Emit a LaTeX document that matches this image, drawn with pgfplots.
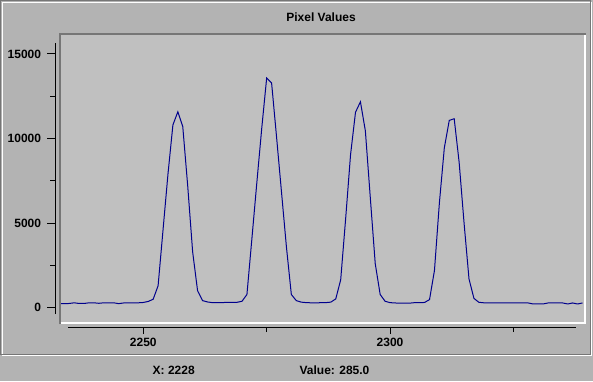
\documentclass[border=0pt]{standalone}
\usepackage{pgfplots}
\pgfplotsset{compat=1.18}
\usepackage{fontspec}
\setmainfont{Liberation Sans}
\definecolor{panel}{RGB}{179,179,179}
\definecolor{plotbg}{RGB}{192,192,192}
\definecolor{darkedge}{RGB}{118,118,118}
\definecolor{trace}{RGB}{0,0,140}
\newcommand{\guifont}{\bfseries\fontsize{12}{14}\selectfont}
\pgfplotstableread{
x v
2233 240
2234 240
2235 250
2236 290
2237 250
2238 250
2239 290
2240 290
2241 260
2242 290
2243 290
2244 290
2245 240
2246 280
2247 290
2248 290
2249 290
2250 310
2251 370
2252 500
2253 1300
2254 4600
2255 7900
2256 10800
2257 11580
2258 10700
2259 7200
2260 3300
2261 1000
2262 420
2263 340
2264 300
2265 300
2266 300
2267 320
2268 320
2269 320
2270 380
2271 780
2272 4060
2273 7370
2274 10600
2275 13580
2276 13280
2277 10100
2278 6850
2279 3600
2280 780
2281 420
2282 330
2283 300
2284 290
2285 280
2286 300
2287 300
2288 330
2289 520
2290 1650
2291 5250
2292 9050
2293 11550
2294 12170
2295 10450
2296 6500
2297 2600
2298 780
2299 380
2300 300
2301 280
2302 270
2303 270
2304 270
2305 300
2306 300
2307 310
2308 480
2309 2200
2310 6200
2311 9450
2312 11070
2313 11170
2314 8600
2315 5000
2316 1700
2317 550
2318 320
2319 290
2320 280
2321 280
2322 280
2323 280
2324 280
2325 280
2326 280
2327 280
2328 280
2329 220
2330 220
2331 220
2332 280
2333 280
2334 280
2335 280
2336 220
2337 280
2338 220
2339 280
}\pixeldata
\begin{document}
\begin{tikzpicture}[x=1pt,y=1pt]
\useasboundingbox (0,0) rectangle (593,381);
\fill[panel] (0,0) rectangle (593,381);
% etched frame of the main panel
\draw[white, line width=1pt] (2.5,381-355.5) rectangle (591.5,381-2.5);
\draw[darkedge, line width=1pt] (0.5,381-354) rectangle (590,381-0.5);
% plot background
\fill[plotbg] (59.5,381-323.3) rectangle (584.5,381-34.3);
% title
\node[font=\guifont, anchor=center] at (321,381-17.5) {Pixel Values};
% data axis
\begin{axis}[at={(59.4pt,58pt)}, anchor=south west, scale only axis,
  width=523.1pt, height=288pt,
  xmin=2233, xmax=2339, ymin=-904, ymax=16117,
  hide axis, clip=true]
\addplot[trace, line width=1pt] table[x=x, y=v] {\pixeldata};
\end{axis}
% plot borders (inset look)
\draw[darkedge, line width=2pt] (59.7,381-324.3) -- (59.7,381-34.3) -- (585.5,381-34.3);
\draw[white, line width=2pt] (60.7,381-323.3) -- (584.5,381-323.3) -- (584.5,381-35.3);
% separate y axis
\begin{axis}[at={(55pt,67pt)}, anchor=south west, scale only axis,
  width=10pt, height=270.7pt,
  xmin=0, xmax=1, ymin=-372, ymax=15626,
  axis y line=left, axis x line=none,
  scaled y ticks=false,
  axis line style={-, black, line width=1pt},
  ytick={0,5000,10000,15000}, yticklabels={0,5000,10000,15000},
  minor ytick={2500,7500,12500},
  tick align=outside, major tick length=7.7pt, minor tick length=5pt,
  every tick/.style={black, line width=1pt},
  yticklabel style={font=\guifont, anchor=east, inner sep=0pt, xshift=-6pt}]
\end{axis}
% separate x axis
\begin{axis}[at={(68pt,54pt)}, anchor=south west, scale only axis,
  width=508pt, height=10pt,
  xmin=2234.74, xmax=2337.68, ymin=0, ymax=1,
  axis x line=bottom, axis y line=none,
  scaled x ticks=false,
  axis line style={-, black, line width=1pt},
  xtick={2250,2300}, xticklabels={2250,2300},
  minor xtick={2275,2325},
  tick align=outside, major tick length=7pt, minor tick length=5pt,
  every tick/.style={black, line width=1pt},
  xticklabel style={font=\guifont, anchor=north, inner sep=0pt, yshift=-4pt}]
\end{axis}
% status line
\node[font=\guifont, anchor=center] at (173.7,381-370) {X: 2228};
\node[font=\guifont, anchor=center] at (334.5,381-370) {Value: 285.0};
\end{tikzpicture}
\end{document}
